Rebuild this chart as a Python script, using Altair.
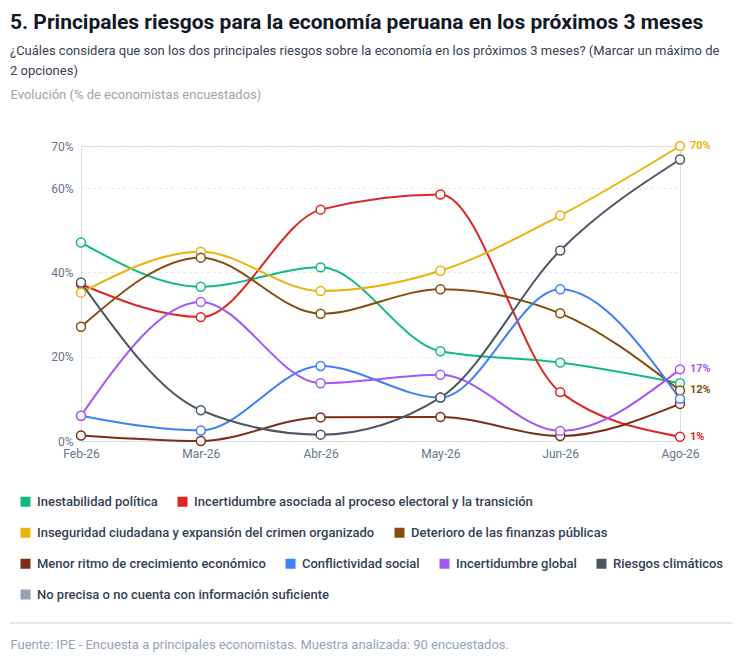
import altair as alt
import pandas as pd

months = ["Feb-26", "Mar-26", "Abr-26", "May-26", "Jun-26", "Ago-26"]

names = [
    "Inestabilidad política",
    "Incertidumbre asociada al proceso electoral y la transición",
    "Inseguridad ciudadana y expansión del crimen organizado",
    "Deterioro de las finanzas públicas",
    "Menor ritmo de crecimiento económico",
    "Conflictividad social",
    "Incertidumbre global",
    "Riesgos climáticos",
    "No precisa o no cuenta con información suficiente",
]
colors = ["#10b981", "#dc2626", "#eab308", "#854d0e", "#7c2d12",
          "#3b82f6", "#a855f7", "#4b5563", "#94a3b8"]

inestabilidad = [47.1, 36.6, 41.2, 21.3, 18.6, 13.7]
incertidumbre_electoral = [37.2, 29.4, 54.9, 58.5, 11.6, 1.0]
inseguridad = [35.2, 44.9, 35.6, 40.4, 53.5, 70.0]
deterioro = [27.1, 43.5, 30.2, 36.0, 30.3, 12.0]
menor_ritmo = [1.3, 0.0, 5.6, 5.7, 1.2, 8.8]
conflictividad = [6.0, 2.5, 17.8, 10.3, 36.0, 10.0]
incertidumbre_global = [6.0, 33.0, 13.7, 15.7, 2.4, 17.0]
climaticos = [37.6, 7.3, 1.5, 10.3, 45.2, 66.8]

series = [inestabilidad, incertidumbre_electoral, inseguridad, deterioro,
          menor_ritmo, conflictividad, incertidumbre_global, climaticos]

labeled = [names[2], names[6], names[3], names[1]]

legend_rows = [names[0:2], names[2:4], names[4:8], names[8:9]]

rows = []
for n, vals in zip(names, series):
    for m, v in zip(months, vals):
        rows.append({"serie": n, "mes": m, "valor": v})
df = pd.DataFrame(rows)
df["etiqueta"] = df["valor"].round(0).astype(int).astype(str) + "%"

FONT = "Roboto"
LEFT = -71

color_scale = alt.Scale(domain=names, range=colors)

x_enc = alt.X("mes:N", sort=months,
              scale=alt.Scale(type="point", padding=0),
              axis=alt.Axis(labelAngle=0, labelColor="#64748b", labelFontSize=12,
                            labelFont=FONT, labelPadding=7, domain=False, ticks=False,
                            grid=False,
                            title="Fuente: IPE - Encuesta a principales economistas. Muestra analizada: 90 encuestados.",
                            titleX=LEFT, titleY=203, titleAlign="left", titleBaseline="middle",
                            titleColor="#94a3b8", titleFontSize=13, titleFontWeight="normal",
                            titleFont=FONT))
y_enc = alt.Y("valor:Q", scale=alt.Scale(domain=[0, 70], nice=False),
              axis=alt.Axis(values=[0, 20, 40, 60, 70], labelExpr="datum.value + '%'",
                            labelColor="#64748b", labelFontSize=12, labelFont=FONT,
                            labelPadding=8, domain=False, ticks=False,
                            grid=True, gridDash=[2, 4], gridColor="#dbe3ea",
                            title="Evolución (% de economistas encuestados)",
                            titleAngle=0, titleX=LEFT, titleY=-52, titleAlign="left",
                            titleBaseline="middle", titleColor="#9ca3af",
                            titleFontSize=13, titleFontWeight="normal", titleFont=FONT))

base = alt.Chart(df)

lines = base.mark_line(interpolate="monotone", strokeWidth=2).encode(
    x=x_enc, y=y_enc,
    color=alt.Color("serie:N", scale=color_scale, legend=None),
    detail="serie:N",
)
points = base.mark_point(filled=False, fill="white", fillOpacity=1, size=80,
                         strokeWidth=1.5, opacity=1).encode(
    x=x_enc, y=y_enc,
    color=alt.Color("serie:N", scale=color_scale, legend=None),
)
labels = base.transform_filter(
    alt.FieldOneOfPredicate(field="serie", oneOf=labeled)
).transform_filter(alt.datum.mes == months[-1]).mark_text(
    align="left", baseline="middle", dx=10, fontSize=11, fontWeight="bold", font=FONT
).encode(
    x=x_enc, y=y_enc, text="etiqueta:N",
    color=alt.Color("serie:N", scale=color_scale, legend=None),
)

rule = base.mark_rule(color="#e5e7eb", strokeWidth=1).encode(
    x=alt.value(LEFT), x2=alt.value(651), y=alt.value(477)
)


def legend_layer(row_names, ly):
    return alt.Chart(df).transform_filter("false").mark_square(opacity=1).encode(
        x=x_enc, y=y_enc,
        fill=alt.Fill("serie:N",
                      scale=alt.Scale(domain=row_names,
                                      range=[colors[names.index(n)] for n in row_names]),
                      legend=alt.Legend(orient="none", legendX=-62, legendY=ly,
                                        direction="horizontal", title=None,
                                        symbolType="square", symbolSize=100,
                                        symbolStrokeWidth=0, symbolOpacity=1,
                                        labelFont=FONT, labelFontSize=13,
                                        labelFontWeight=500, labelColor="#334155",
                                        labelOffset=5, columnPadding=18, labelLimit=0)),
    )


legends = [legend_layer(r, 349 + 31 * i) for i, r in enumerate(legend_rows)]

chart = alt.layer(lines, points, labels, rule, *legends).resolve_scale(
    fill="independent"
).properties(
    width=599, height=295,
    padding={"left": 73, "top": 138, "right": 60, "bottom": 216},
    autosize=alt.AutoSizeParams(type="none"),
    title=alt.Title(
        "5. Principales riesgos para la economía peruana en los próximos 3 meses",
        subtitle=["¿Cuáles considera que son los dos principales riesgos sobre la economía en los próximos 3 meses? (Marcar un máximo de",
                  "2 opciones)"],
        anchor="start", frame="group", dx=LEFT, dy=-6,
        font=FONT, fontSize=21, fontWeight="bold", color="#111827",
        subtitleFont=FONT, subtitleFontSize=13, subtitleColor="#374151",
        subtitleLineHeight=20, subtitlePadding=12,
    ),
).configure_view(stroke=None).configure(background="white")

chart.save("out.html", embed_options={"renderer": "svg", "actions": False})
